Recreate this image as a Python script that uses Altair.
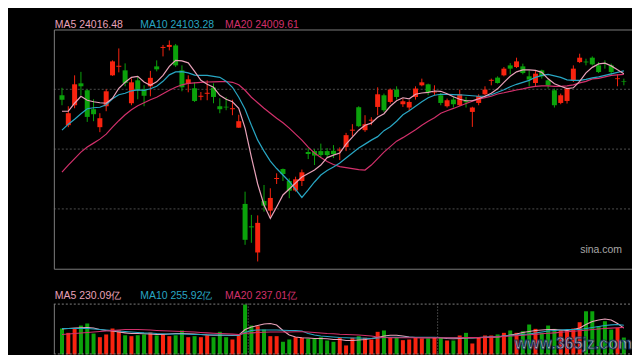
import altair as alt
import pandas as pd

# ---------------- data ----------------
opens = [23830, 23530, 23730, 23950, 23880, 23690, 23510, 23720, 24030, 24115,
         24080, 23750, 23980, 23890, 23920, 24120, 24305, 24315, 24330, 24080,
         23945, 23900, 23815, 23845, 23907, 23720, 23715, 23690, 23505, 22740,
         22515, 22253, 22770, 22673, 22990, 23090, 22970, 22875, 22970, 23260,
         23270, 23270, 23270, 23273, 23275, 23310, 23475, 23710, 23480, 23575,
         23713, 23830, 23763, 23887, 23740, 23707, 23813, 23930, 23940, 23858,
         23830, 23720, 23787, 23730, 23775, 23663, 23753, 23840, 23975, 24007,
         24030, 24130, 24113, 24120, 24020, 23953, 24080, 23980, 23880, 23753,
         23773, 23980, 24163, 24168, 24207, 24130, 24150, 24130, 23992, 23973]
closes = [23785, 23650, 23940, 23920, 23613, 23640, 23600, 23870, 24170, 24125,
          23953, 23960, 23880, 23825, 24005, 24090, 24315, 24335, 24130, 23910,
          23990, 23773, 23825, 23855, 23813, 23690, 23708, 23700, 23570, 22380,
          22505, 22550, 22723, 22800, 23000, 23040, 22873, 22987, 23057, 23240,
          23225, 23230, 23230, 23240, 23285, 23430, 23485, 23520, 23540, 23585,
          23840, 23680, 23887, 23813, 23770, 23763, 23897, 23960, 23863, 23865,
          23753, 23780, 23740, 23840, 23760, 23707, 23823, 23887, 23985, 23953,
          24097, 24097, 24170, 24053, 23987, 24047, 24020, 23930, 23730, 23830,
          23897, 24097, 24207, 24160, 24140, 24063, 24143, 24063, 24000, 23967]
highs = [23905, 23720, 24030, 24065, 23890, 23790, 23650, 23890, 24180, 24300,
         24150, 24000, 24020, 23930, 24075, 24180, 24335, 24380, 24345, 24130,
         24030, 23963, 23863, 23980, 23950, 23800, 23810, 23785, 23635, 22863,
         22630, 22625, 22930, 22897, 23047, 23095, 22997, 23013, 23085, 23300,
         23290, 23345, 23300, 23330, 23307, 23453, 23540, 23720, 23630, 23610,
         23910, 23847, 23897, 23920, 23797, 23780, 23920, 23997, 23947, 23930,
         23853, 23797, 23813, 23887, 23813, 23715, 23840, 23920, 23997, 24020,
         24113, 24153, 24207, 24147, 24080, 24073, 24087, 23997, 23897, 23847,
         23907, 24130, 24247, 24197, 24220, 24163, 24180, 24147, 24040, 23997]
lows = [23730, 23510, 23700, 23830, 23563, 23570, 23460, 23670, 24025, 24060,
        23920, 23730, 23790, 23720, 23820, 24070, 24220, 24280, 24115, 23870,
        23860, 23763, 23780, 23780, 23750, 23650, 23680, 23630, 23503, 22330,
        22350, 22163, 22663, 22613, 22940, 22970, 22797, 22863, 22920, 23190,
        23130, 23200, 23210, 23200, 23180, 23270, 23420, 23510, 23463, 23530,
        23630, 23663, 23747, 23787, 23713, 23670, 23787, 23920, 23830, 23830,
        23730, 23707, 23707, 23720, 23707, 23513, 23730, 23830, 23930, 23947,
        24020, 24040, 24103, 24040, 23920, 23920, 23997, 23897, 23707, 23740,
        23747, 23963, 24153, 24130, 24130, 24053, 24097, 24030, 23920, 23930]
ma5 = [23670, 23670, 23750, 23820, 23780, 23765, 23755, 23750, 23800, 23900,
       23960, 24010, 24020, 23963, 23930, 23965, 24030, 24120, 24180, 24175,
       24155, 24070, 23980, 23940, 23910, 23830, 23790, 23765, 23700, 23500,
       23210, 22940, 22730, 22595, 22710, 22830, 22890, 22950, 23010, 23045,
       23080, 23130, 23205, 23230, 23250, 23340, 23410, 23480, 23530, 23550,
       23610, 23645, 23720, 23775, 23805, 23795, 23840, 23853, 23860, 23873,
       23870, 23845, 23815, 23790, 23775, 23775, 23795, 23820, 23850, 23895,
       23960, 24020, 24065, 24085, 24085, 24080, 24060, 23995, 23945, 23920,
       23897, 23905, 23970, 24055, 24110, 24145, 24153, 24125, 24085, 24047]
ma10 = [23480, 23540, 23590, 23645, 23695, 23705, 23710, 23735, 23795, 23835,
        23850, 23875, 23885, 23880, 23895, 23920, 23970, 24035, 24065, 24068,
        24055, 24032, 24030, 24030, 24020, 24010, 23970, 23910, 23810, 23690,
        23530, 23380, 23270, 23170, 23095, 23030, 22965, 22885, 22805, 22880,
        22960, 23030, 23075, 23110, 23150, 23200, 23250, 23300, 23340, 23380,
        23415, 23475, 23515, 23570, 23635, 23675, 23720, 23765, 23805, 23830,
        23840, 23840, 23837, 23835, 23830, 23825, 23820, 23820, 23835, 23860,
        23885, 23915, 23940, 23960, 23980, 24010, 24030, 24040, 24025, 24010,
        23985, 23980, 23980, 23990, 24005, 24015, 24030, 24045, 24060, 24075]
ma20 = [23060, 23130, 23195, 23260, 23310, 23350, 23390, 23440, 23510, 23575,
        23635, 23685, 23725, 23755, 23785, 23810, 23845, 23880, 23910, 23935,
        23950, 23955, 23960, 23963, 23965, 23967, 23968, 23960, 23935, 23880,
        23810, 23755, 23700, 23650, 23600, 23555, 23500, 23440, 23380, 23310,
        23250, 23205, 23165, 23135, 23115, 23105, 23095, 23085, 23080, 23130,
        23195, 23260, 23315, 23370, 23405, 23445, 23485, 23530, 23570, 23605,
        23650, 23675, 23698, 23723, 23747, 23770, 23790, 23806, 23820, 23843,
        23855, 23870, 23883, 23895, 23910, 23920, 23925, 23925, 23920, 23920,
        23925, 23935, 23955, 23970, 23995, 24000, 24015, 24030, 24035, 24040]
volumes = [227, 189, 224, 253, 271, 183, 151, 175, 227, 212,
           168, 160, 168, 175, 192, 166, 175, 160, 168, 210,
           151, 160, 151, 166, 151, 198, 151, 131, 175, 437,
           253, 247, 218, 160, 160, 111, 131, 151, 146, 137,
           137, 151, 122, 111, 148, 79, 146, 160, 146, 131,
           198, 210, 151, 151, 125, 131, 146, 140, 140, 151,
           146, 122, 122, 166, 189, 96, 151, 166, 166, 175,
           189, 210, 189, 203, 262, 224, 189, 253, 224, 214,
           210, 227, 282, 378, 378, 249, 291, 218, 233, 148]
vma5 = [223, 227, 231, 233, 236, 231, 218, 210, 205, 196,
        189, 183, 183, 181, 179, 175, 175, 179, 183, 183,
        181, 179, 175, 170, 168, 168, 168, 166, 168, 218,
        240, 253, 266, 271, 258, 210, 170, 153, 146, 144,
        140, 140, 137, 131, 131, 122, 122, 127, 131, 140,
        148, 162, 168, 168, 162, 153, 148, 146, 146, 146,
        146, 140, 137, 140, 144, 144, 146, 148, 151, 153,
        160, 170, 179, 192, 201, 210, 214, 218, 218, 214,
        210, 218, 231, 262, 288, 301, 310, 301, 271, 230]
vma10 = [227, 227, 227, 227, 227, 223, 218, 214, 210, 205,
         201, 196, 192, 189, 188, 183, 181, 179, 179, 179,
         177, 175, 175, 173, 170, 170, 168, 168, 168, 192,
         210, 214, 214, 214, 214, 212, 210, 210, 205, 183,
         170, 162, 157, 153, 148, 146, 144, 144, 142, 140,
         144, 148, 151, 151, 151, 151, 151, 151, 151, 151,
         148, 146, 146, 146, 146, 146, 148, 153, 155, 157,
         162, 166, 170, 175, 179, 188, 196, 205, 210, 214,
         218, 218, 218, 227, 236, 244, 253, 259, 262, 256]
vma20 = [175, 179, 183, 188, 192, 196, 201, 205, 210, 214,
         218, 218, 218, 216, 214, 210, 207, 205, 203, 201,
         199, 196, 192, 189, 186, 183, 181, 178, 175, 185,
         189, 192, 194, 196, 196, 196, 196, 198, 198, 196,
         192, 188, 183, 181, 177, 175, 172, 170, 166, 162,
         153, 148, 146, 146, 146, 146, 146, 146, 146, 146,
         146, 146, 146, 146, 147, 148, 148, 150, 152, 154,
         157, 161, 164, 168, 172, 176, 181, 185, 189, 194,
         198, 203, 207, 212, 218, 223, 227, 230, 234, 237]
grid_levels = [22690, 23290, 23890]
month_breaks = [29.5, 59.5]
price_labels = ["MA5 24016.48", "MA10 24103.28", "MA20 24009.61"]
volume_labels = ["MA5 230.09亿", "MA10 255.92亿", "MA20 237.01亿"]
source_label = "sina.com"
watermark = "www.365jz.com"

# ---------------- styling ----------------
RED, GREEN = "#f8230f", "#0ba20b"
C_MA5, C_MA10, C_MA20 = "#e8a2b9", "#28a6c3", "#d2306b"
W, H = 580, 326
FONT = "Liberation Sans"

n = len(opens)
df = pd.DataFrame({
    "idx": list(range(n)), "open": opens, "close": closes, "high": highs, "low": lows,
    "vol": volumes, "ma5": ma5, "ma10": ma10, "ma20": ma20,
    "vma5": vma5, "vma10": vma10, "vma20": vma20,
})
df["dir"] = ["up" if c >= o else "down" for o, c in zip(opens, closes)]

XS = alt.Scale(domain=[-0.5, n - 0.5], nice=False, zero=False)
PS = alt.Scale(domain=[22090, 24490], range=[240, 0], nice=False, zero=False)
VS = alt.Scale(domain=[0, 445], range=[326, 275], nice=False, zero=False)
CS = alt.Scale(domain=["up", "down"], range=[RED, GREEN])

X = alt.X("idx:Q", scale=XS, axis=None)
COLOR = alt.Color("dir:N", scale=CS, legend=None)
base = alt.Chart(df)

grid = alt.Chart(pd.DataFrame({"level": grid_levels})).mark_rule(
    color="#4d4d4d", strokeDash=[2, 2], strokeWidth=1
).encode(y=alt.Y("level:Q", scale=PS, axis=None), x=alt.value(0), x2=alt.value(W))

breaks = alt.Chart(pd.DataFrame({"b": month_breaks})).mark_rule(
    color="#7a7a7a", strokeDash=[1, 2], strokeWidth=1
).encode(x=alt.X("b:Q", scale=XS, axis=None), y=alt.value(275), y2=alt.value(326))

vol_bars = base.mark_bar(size=4).encode(
    x=X, y=alt.Y("vol:Q", scale=VS, axis=None), y2=alt.datum(0), color=COLOR
)

def vline(field, color):
    return base.mark_line(strokeWidth=1.1, color=color).encode(
        x=X, y=alt.Y(f"{field}:Q", scale=VS, axis=None))

def pline(field, color):
    return base.mark_line(strokeWidth=1.2, color=color).encode(
        x=X, y=alt.Y(f"{field}:Q", scale=PS, axis=None))

wicks = base.mark_rule(strokeWidth=1).encode(
    x=X, y=alt.Y("low:Q", scale=PS, axis=None), y2="high:Q", color=COLOR)
bodies = base.mark_bar(size=5).encode(
    x=X, y=alt.Y("open:Q", scale=PS, axis=None), y2="close:Q", color=COLOR)

one = pd.DataFrame({"a": [0]})
border_main = alt.Chart(one).mark_rect(fillOpacity=0, stroke="#7c7c7c", strokeWidth=1).encode(
    x=alt.value(0.5), x2=alt.value(W + 0.5), y=alt.value(0.5), y2=alt.value(240.5))
vol_sides = alt.Chart(pd.DataFrame({"p": [0.5, W + 0.5]})).mark_rule(
    color="#7c7c7c", strokeWidth=1).encode(
    x=alt.X("p:Q", scale=None), y=alt.value(275.5), y2=alt.value(325.5))
vol_tb = alt.Chart(pd.DataFrame({"p": [275.5, 325.5]})).mark_rule(
    color="#7c7c7c", strokeDash=[2, 2], strokeWidth=1).encode(
    y=alt.Y("p:Q", scale=None), x=alt.value(0), x2=alt.value(W + 1))

def label(text, x, y, color, size=10.5, **kw):
    return alt.Chart(pd.DataFrame({"t": [text]})).mark_text(
        align="left", baseline="alphabetic", font=FONT, fontSize=size, color=color, **kw
    ).encode(x=alt.value(x), y=alt.value(y), text="t:N")

texts = [
    label(price_labels[0], 1, -1.5, C_MA5),
    label(price_labels[1], 86.7, -1.5, C_MA10),
    label(price_labels[2], 171.7, -1.5, C_MA20),
    label(volume_labels[0], 1, 270, C_MA5),
    label(volume_labels[1], 86.7, 270, C_MA10),
    label(volume_labels[2], 171.7, 270, C_MA20),
    label(source_label, 528, 224, "#a6a6a6"),
    label(watermark, 462.5, 321, "#b9c6da", size=16, fontWeight="bold",
          stroke="#1c2f5c", strokeWidth=1, opacity=0.85),
]

chart = alt.layer(
    grid, breaks, vol_bars,
    vline("vma5", C_MA5), vline("vma10", C_MA10), vline("vma20", C_MA20),
    wicks, bodies,
    pline("ma20", C_MA20), pline("ma10", C_MA10), pline("ma5", C_MA5),
    border_main, vol_sides, vol_tb, *texts,
).resolve_scale(y="independent").properties(
    width=W, height=H,
    autosize=alt.AutoSizeParams(type="none"),
    padding={"left": 46, "top": 21, "right": 0, "bottom": 0},
    background="#000000",
).configure_view(strokeOpacity=0)

chart.save("out.html", embed_options={"renderer": "svg", "actions": False})
